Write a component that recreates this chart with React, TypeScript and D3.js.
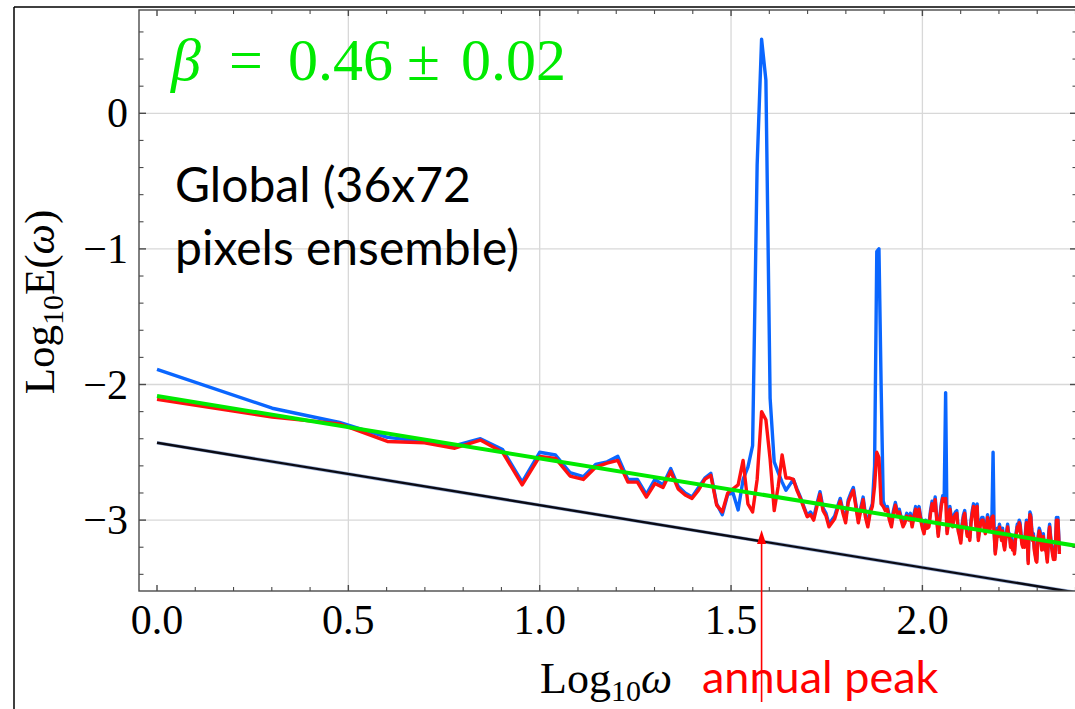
import React from 'react'
import * as d3 from 'd3'

// Log10 E(omega) at omega = 1..228
// raw spectrum (blue) and spectrum with the annual cycle removed (red)
const rawLogE = [
  -1.888, -2.175, -2.28, -2.39, -2.42, -2.45, -2.40, -2.48, -2.72, -2.50,
  -2.52, -2.65, -2.68, -2.59, -2.57, -2.53, -2.70, -2.70, -2.81, -2.70,
  -2.74, -2.62, -2.75, -2.80, -2.83, -2.76, -2.69, -2.655, -2.88, -2.96,
  -2.81, -2.80, -2.925, -2.70, -2.61, -2.45, -0.38, 0.546, 0.245, -2.10,
  -2.57, -2.65, -2.72, -2.78, -2.74, -2.70, -2.77, -2.83, -2.90, -2.965,
  -2.94, -2.98, -2.88, -2.79, -2.91, -2.95, -3.03, -3.00, -2.97, -2.90,
  -2.84, -2.93, -3.00, -2.85, -2.80, -2.76, -2.88, -3.00, -2.91, -2.83,
  -2.96, -3.03, -2.93, -2.88, -2.60, -1.02, -1.00, -2.00, -2.86, -2.91,
  -2.90, -2.98, -3.03, -2.93, -2.87, -2.94, -2.92, -2.98, -3.03, -3.00,
  -2.95, -2.98, -2.95, -3.03, -2.96, -2.90, -2.96, -2.90, -2.98, -3.04,
  -3.08, -3.00, -3.04, -3.03, -2.93, -2.86, -2.91, -2.83, -2.98, -3.10,
  -2.98, -2.88, -2.82, -2.84, -2.06, -3.08, -3.00, -2.90, -2.98, -3.03,
  -2.96, -2.94, -2.93, -3.06, -3.10, -3.15, -3.03, -2.96, -2.93, -3.03,
  -3.10, -3.08, -3.13, -3.00, -2.93, -2.88, -2.90, -3.03, -2.88, -3.13,
  -3.06, -3.00, -2.98, -2.98, -3.04, -3.08, -3.03, -2.96, -3.02, -3.06,
  -3.00, -2.96, -2.50, -3.08, -3.23, -3.16, -3.06, -3.10, -3.03, -3.08,
  -3.13, -3.06, -3.16, -3.20, -3.13, -3.08, -3.03, -3.10, -3.10, -3.18,
  -3.13, -3.20, -3.16, -3.23, -3.13, -3.08, -3.03, -3.06, -3.00, -3.02,
  -3.10, -3.16, -3.18, -3.13, -3.18, -3.08, -3.00, -3.13, -3.30, -3.03,
  -2.94, -2.96, -3.06, -3.13, -3.10, -3.20, -3.24, -3.28, -3.29, -3.16,
  -3.10, -3.06, -3.08, -3.13, -3.20, -3.16, -3.10, -3.18, -3.20, -3.16,
  -3.24, -3.29, -3.18, -3.08, -3.03, -3.10, -3.16, -3.20, -3.24, -3.27,
  -3.20, -3.27, -3.13, -2.98, -3.03, -2.98, -3.10, -3.23,
]

const anomalyLogE = [
  -2.11, -2.24, -2.29, -2.42, -2.43, -2.47, -2.41, -2.50, -2.74, -2.53,
  -2.545, -2.675, -2.70, -2.61, -2.58, -2.56, -2.72, -2.72, -2.83, -2.73,
  -2.76, -2.64, -2.77, -2.815, -2.84, -2.78, -2.70, -2.67, -2.89, -2.94,
  -2.80, -2.77, -2.74, -2.56, -2.88, -2.94, -2.70, -2.20, -2.26, -2.55,
  -2.93, -2.75, -2.52, -2.69, -2.69, -2.70, -2.78, -2.84, -2.91, -2.975,
  -2.96, -3.00, -2.90, -2.81, -2.93, -2.97, -3.05, -3.02, -2.99, -2.92,
  -2.86, -2.95, -3.02, -2.87, -2.82, -2.78, -2.90, -3.02, -2.93, -2.85,
  -2.98, -3.05, -2.95, -2.90, -2.75, -2.50, -2.54, -2.88, -2.90, -2.93,
  -2.92, -3.00, -3.05, -2.95, -2.89, -2.96, -2.94, -3.00, -3.05, -3.02,
  -2.97, -3.00, -2.97, -3.05, -2.98, -2.92, -2.98, -2.92, -3.00, -3.06,
  -3.10, -3.02, -3.06, -3.05, -2.95, -2.88, -2.93, -2.85, -3.00, -3.12,
  -3.00, -2.90, -2.84, -2.86, -2.84, -3.10, -3.02, -2.92, -3.00, -3.05,
  -2.98, -2.96, -2.95, -3.08, -3.12, -3.17, -3.05, -2.98, -2.95, -3.05,
  -3.12, -3.10, -3.15, -3.02, -2.95, -2.90, -2.92, -3.05, -2.90, -3.15,
  -3.08, -3.02, -3.00, -3.00, -3.06, -3.10, -3.05, -2.98, -3.04, -3.08,
  -3.02, -2.98, -2.97, -3.10, -3.25, -3.18, -3.08, -3.12, -3.05, -3.10,
  -3.15, -3.08, -3.18, -3.22, -3.15, -3.10, -3.05, -3.12, -3.12, -3.20,
  -3.15, -3.22, -3.18, -3.25, -3.15, -3.10, -3.05, -3.08, -3.02, -3.04,
  -3.12, -3.18, -3.20, -3.15, -3.20, -3.10, -3.02, -3.15, -3.32, -3.05,
  -2.96, -2.98, -3.08, -3.15, -3.12, -3.22, -3.26, -3.30, -3.31, -3.18,
  -3.12, -3.08, -3.10, -3.15, -3.22, -3.18, -3.12, -3.20, -3.22, -3.18,
  -3.26, -3.31, -3.20, -3.10, -3.05, -3.12, -3.18, -3.22, -3.26, -3.29,
  -3.22, -3.29, -3.15, -3.00, -3.05, -3.00, -3.12, -3.25,
]

// straight lines: power-law fit (green) and reference line (black)
const lineEndsX = [0, 2.42]
const fitLogE = [-2.085, -3.198]
const refLogE = [-2.43, -3.543]

const xTicks = [0, 0.5, 1.0, 1.5, 2.0]
const xTickLabels = ['0.0', '0.5', '1.0', '1.5', '2.0']
const yTicks = [0, -1, -2, -3]
const yTickLabels = ['0', '\u22121', '\u22122', '\u22123']
const xMinor = d3.range(0, 2.45, 0.1)
const yMinor = d3.range(-3.4, 0.7, 0.2)

const annualPeakX = Math.log10(38)

const W = 1075
const H = 709
const L = 139, T = 10, R = 1077, B = 591

const serif = "'Liberation Serif', 'Times New Roman', serif"
const sans = "Lato, 'Open Sans', sans-serif"

export default function App() {
  const x = d3.scaleLinear().domain([0, 2]).range([157, 922.4])
  const y = d3.scaleLinear().domain([0, -3]).range([113.3, 520.1])

  const spec = d3.line<number>()
    .x((_, i) => x(Math.log10(i + 1)))
    .y(d => y(d))
  const straight = d3.line<number>()
    .x((_, i) => x(lineEndsX[i]))
    .y(d => y(d))

  const frame = '#4a4a4a'
  const grid = '#d8d8d8'
  const green = '#00ea00'

  return (
    <svg width={W} height={H} style={{ position: 'absolute', left: 0, top: 0, background: '#fff' }}>
      <defs>
        <clipPath id="plot">
          <rect x={L} y={T} width={R - L} height={B - T} />
        </clipPath>
      </defs>

      {/* figure border */}
      <line x1={14} y1={7} x2={W} y2={7} stroke="#000" strokeWidth={1.5} />
      <line x1={14} y1={7} x2={14} y2={H} stroke="#000" strokeWidth={1.5} />

      {/* grid */}
      {xTicks.filter(t => t > 0).map(t => (
        <line key={'gx' + t} x1={x(t)} x2={x(t)} y1={T} y2={B} stroke={grid} strokeWidth={1.3} />
      ))}
      {yTicks.map(t => (
        <line key={'gy' + t} x1={L} x2={R} y1={y(t)} y2={y(t)} stroke={grid} strokeWidth={1.3} />
      ))}

      {/* data */}
      <g clipPath="url(#plot)">
        <path d={straight(refLogE) || ''} fill="none" stroke="#9fb3d9" strokeWidth={3.6} />
        <path d={straight(refLogE) || ''} fill="none" stroke="#0b0b14" strokeWidth={2.4} />
        <path d={spec(rawLogE) || ''} fill="none" stroke="#0a66ff" strokeWidth={3.4} strokeLinejoin="round" />
        <path d={spec(anomalyLogE) || ''} fill="none" stroke="#ff1010" strokeWidth={3.4} strokeLinejoin="round" />
        <path d={straight(fitLogE) || ''} fill="none" stroke={green} strokeWidth={4} />
      </g>

      {/* frame */}
      <rect x={L} y={T} width={R - L} height={B - T} fill="none" stroke={frame} strokeWidth={1.4} />
      {xMinor.map((t, i) => {
        const major = i % 5 === 0
        const len = major ? 6 : 4
        return (
          <g key={'xt' + i}>
            <line x1={x(t)} x2={x(t)} y1={B} y2={B - len} stroke={frame} strokeWidth={major ? 1.4 : 1.1} />
            <line x1={x(t)} x2={x(t)} y1={T} y2={T + len} stroke={frame} strokeWidth={major ? 1.4 : 1.1} />
          </g>
        )
      })}
      {yMinor.map((t, i) => {
        const major = Math.abs(t - Math.round(t)) < 1e-6
        const len = major ? 7 : 4.5
        return (
          <g key={'yt' + i}>
            <line x1={L} x2={L + len} y1={y(t)} y2={y(t)} stroke={frame} strokeWidth={major ? 1.4 : 1.1} />
            <line x1={R} x2={R - len} y1={y(t)} y2={y(t)} stroke={frame} strokeWidth={major ? 1.4 : 1.1} />
          </g>
        )
      })}

      {/* tick labels */}
      {xTicks.map((t, i) => (
        <text key={'xl' + t} x={x(t)} y={634} textAnchor="middle" fontFamily={serif} fontSize={42} fill="#000">
          {xTickLabels[i]}
        </text>
      ))}
      {yTicks.map((t, i) => (
        <text key={'yl' + t} x={128} y={y(t) + 14} textAnchor="end" fontFamily={serif} fontSize={42} fill="#000">
          {yTickLabels[i]}
        </text>
      ))}

      {/* axis labels */}
      <text x={540} y={693} fontFamily={serif} fontSize={44} fill="#000">
        Log<tspan fontSize={30} dy={8}>10</tspan><tspan dy={-8} fontStyle="italic">ω</tspan>
      </text>
      <text transform="translate(54,302) rotate(-90)" textAnchor="middle" fontFamily={serif} fontSize={43} fill="#000">
        Log<tspan fontSize={30} dy={9}>10</tspan><tspan dy={-9}>E(</tspan><tspan fontStyle="italic">ω</tspan>)
      </text>

      {/* fit annotation */}
      <g fontFamily={serif} fontSize={60} fill={green}>
        <text x={171} y={80} fontStyle="italic">β</text>
        <text x={229} y={80}>=</text>
        <text x={288} y={80}>0.46</text>
        <text x={407} y={80}>±</text>
        <text x={461} y={80}>0.02</text>
      </g>

      <g fontFamily={sans} fontSize={48} fill="#000">
        <text x={175} y={202}>Global (36x72</text>
        <text x={175} y={265}>pixels ensemble)</text>
      </g>

      {/* annual peak arrow */}
      <line x1={x(annualPeakX)} x2={x(annualPeakX)} y1={702} y2={542} stroke="#ff0000" strokeWidth={1.6} />
      <path
        d={`M${x(annualPeakX)},530 L${x(annualPeakX) - 4.5},544 L${x(annualPeakX) + 4.5},544 Z`}
        fill="#ff0000"
      />
      <text x={702} y={693} fontFamily={sans} fontSize={45} fill="#ff0000">annual peak</text>
    </svg>
  )
}
